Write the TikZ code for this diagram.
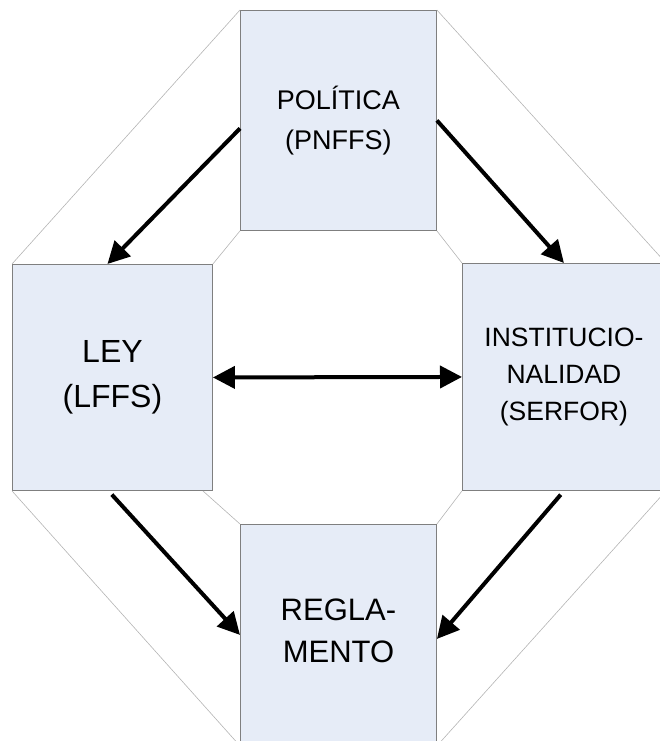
\documentclass[tikz,border=0pt]{standalone}
\usepackage{fontspec}
\setmainfont{Liberation Sans}
\usetikzlibrary{arrows.meta}
\definecolor{boxfill}{HTML}{E6ECF7}
\definecolor{boxline}{HTML}{7F7F7F}
\definecolor{frameline}{HTML}{B4B4B4}
\begin{document}
\begin{tikzpicture}[x=1pt,y=-1pt,
  box/.style={draw=boxline, line width=0.9pt, fill=boxfill, align=center, inner sep=0pt, anchor=north west},
  conn/.style={line width=4pt, -{Triangle[length=22pt,width=22pt]}},
  dconn/.style={line width=4pt, {Triangle[length=22pt,width=22pt]}-{Triangle[length=22pt,width=22pt]}},
  frame/.style={draw=frameline, line width=0.6pt}]
\useasboundingbox (0,0) rectangle (660,741);
\node[box, minimum width=196pt, minimum height=220pt, font=\fontsize{27pt}{40pt}\selectfont] (top) at (240,10) {POLÍTICA\\(PNFFS)};
\node[box, minimum width=200pt, minimum height=226pt, font=\fontsize{32pt}{45pt}\selectfont] (left) at (12,264) {LEY\\(LFFS)};
\node[box, minimum width=203pt, minimum height=227pt, font=\fontsize{26.5pt}{37pt}\selectfont] (right) at (462,263) {INSTITUCIO-\\NALIDAD\\(SERFOR)};
\node[box, minimum width=196pt, minimum height=221pt, font=\fontsize{31pt}{42pt}\selectfont, text depth=8pt] (bottom) at (240,524) {REGLA-\\MENTO};
% outer frame lines
\draw[frame] (top.north west) -- (left.north west);
\draw[frame] (top.south west) -- (left.north east);
\draw[frame] (top.north east) -- (right.north east);
\draw[frame] (top.south east) -- (right.north west);
\draw[frame] (left.south west) -- (bottom.south west);
\draw[frame] ([xshift=-10pt]left.south east) -- (bottom.north west);
\draw[frame] (right.south west) -- (bottom.north east);
\draw[frame] (right.south east) -- (bottom.south east);
% connectors
\draw[conn] ([yshift=-8pt]top.west) -- ([xshift=-5pt]left.north);
\draw[conn] (top.east) -- (right.north);
\draw[conn, shorten <=5pt] ([xshift=-4pt]left.south) -- (bottom.west);
\draw[conn, shorten <=5pt] (right.south) -- ([yshift=-4pt]bottom.east);
\draw[dconn] (left.east) -- (right.west);
\end{tikzpicture}
\end{document}
